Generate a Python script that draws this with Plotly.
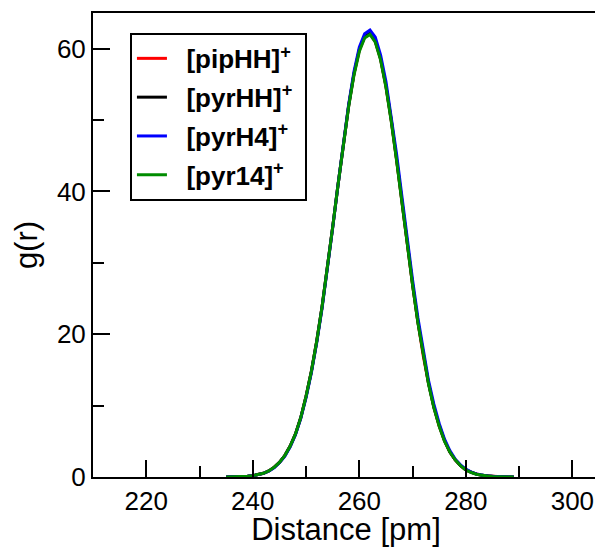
import plotly.graph_objects as go

distance = list(range(235, 290))

g_pipHH = [0.01, 0.02, 0.03, 0.06, 0.11, 0.19, 0.31, 0.52, 0.85, 1.35, 2.05, 3.0, 4.3, 6.0, 8.3,
           11.3, 14.8, 19.0, 23.8, 29.2, 35.0, 40.9, 46.7, 52.0, 56.5, 59.8, 61.6, 62.1, 61.0, 58.5,
           54.7, 49.9, 44.4, 38.5, 32.6, 26.9, 21.7, 17.0, 13.1, 9.8, 7.1, 5.1, 3.5, 2.4, 1.6,
           1.0, 0.64, 0.39, 0.23, 0.14, 0.08, 0.04, 0.02, 0.01, 0.0]
g_pyrHH = [0.01, 0.02, 0.03, 0.06, 0.11, 0.19, 0.31, 0.52, 0.85, 1.34, 2.04, 3.0, 4.3, 6.0, 8.3,
           11.3, 14.8, 19.0, 23.8, 29.2, 35.0, 40.9, 46.7, 52.0, 56.5, 59.9, 61.7, 62.2, 61.1, 58.6,
           54.8, 50.0, 44.5, 38.6, 32.6, 27.0, 21.7, 17.1, 13.1, 9.8, 7.2, 5.1, 3.5, 2.4, 1.6,
           1.0, 0.64, 0.39, 0.23, 0.14, 0.08, 0.04, 0.02, 0.01, 0.0]
g_pyrH4 = [0.01, 0.02, 0.03, 0.05, 0.10, 0.18, 0.30, 0.50, 0.82, 1.30, 2.0, 2.9, 4.2, 5.9, 8.2,
           11.1, 14.6, 18.8, 23.6, 29.0, 34.9, 40.9, 46.8, 52.2, 56.8, 60.2, 62.1, 62.6, 61.6, 59.1,
           55.4, 50.6, 45.2, 39.3, 33.3, 27.6, 22.3, 17.6, 13.5, 10.2, 7.5, 5.3, 3.7, 2.5, 1.7,
           1.1, 0.68, 0.42, 0.25, 0.15, 0.09, 0.05, 0.02, 0.01, 0.0]
g_pyr14 = [0.01, 0.02, 0.03, 0.06, 0.11, 0.19, 0.31, 0.52, 0.85, 1.35, 2.05, 3.0, 4.3, 6.0, 8.3,
           11.3, 14.8, 19.0, 23.8, 29.2, 35.0, 40.9, 46.6, 51.9, 56.3, 59.6, 61.5, 62.0, 60.9, 58.4,
           54.6, 49.8, 44.3, 38.4, 32.5, 26.9, 21.6, 17.0, 13.0, 9.7, 7.1, 5.0, 3.5, 2.4, 1.6,
           1.0, 0.63, 0.38, 0.23, 0.13, 0.07, 0.04, 0.02, 0.01, 0.0]

series = [
    ("[pipHH]", g_pipHH, "#ff0000"),
    ("[pyrHH]", g_pyrHH, "#000000"),
    ("[pyrH4]", g_pyrH4, "#0000ff"),
    ("[pyr14]", g_pyr14, "#008c00"),
]

x_ticks = [220, 240, 260, 280, 300]
y_ticks = [0, 20, 40, 60]

fig = go.Figure()
for i, (name, vals, col) in enumerate(series):
    fig.add_trace(go.Scatter(x=distance, y=vals, mode="lines",
                             name="&nbsp;&nbsp;<b>" + name + "<sup>+</sup></b>&nbsp;",
                             line=dict(color=col, width=3), legendgroup=str(i)))

axis_common = dict(
    showline=True, linecolor="black", linewidth=2, mirror=True,
    ticks="inside", ticklen=17, tickwidth=2, tickcolor="black",
    showgrid=False, zeroline=False, automargin=False,
    tickfont=dict(family="Liberation Sans, Arial", size=26, color="black"),
)

fig.update_xaxes(range=[210, 305], tickvals=x_ticks,
                 minor=dict(ticks="inside", ticklen=11, tickwidth=2, tickcolor="black", dtick=10, tick0=210),
                 title=dict(text="Distance [pm]", font=dict(family="Liberation Sans, Arial", size=31, color="black"), standoff=4),
                 **axis_common)
fig.update_yaxes(range=[0, 65], tickvals=y_ticks,
                 minor=dict(ticks="inside", ticklen=11, tickwidth=2, tickcolor="black", dtick=10, tick0=0),
                 title=dict(text="g(r)", font=dict(family="Liberation Sans, Arial", size=31, color="black"), standoff=10),
                 **axis_common)

# page body has an 8px margin, so the figure is offset by 8px to the right and down
fig.update_layout(
    width=595, height=539,
    margin=dict(l=85, r=4, t=5, b=70),
    plot_bgcolor="white", paper_bgcolor="white",
    showlegend=True,
    legend=dict(x=0.073, y=0.957, xanchor="left", yanchor="top",
                bordercolor="black", borderwidth=2, bgcolor="white",
                font=dict(family="Liberation Sans, Arial", size=26, color="black"),
                tracegroupgap=2),
)

fig.write_html("out.html")
